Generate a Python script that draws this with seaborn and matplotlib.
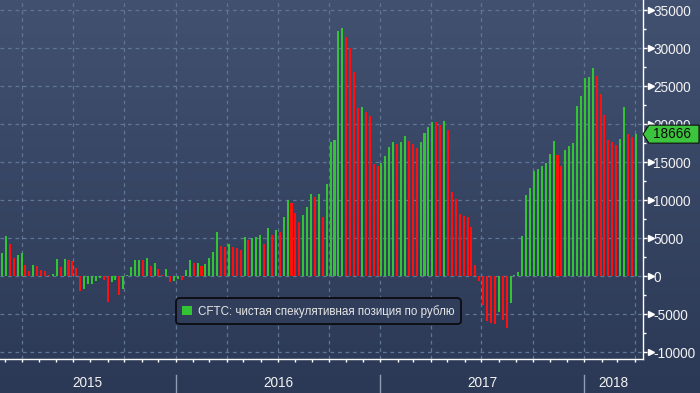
import numpy as np
import pandas as pd
import matplotlib
matplotlib.use("Agg")
import matplotlib.pyplot as plt
import matplotlib.dates as mdates
import matplotlib.ticker as mticker
from matplotlib.patches import Patch, Polygon
from matplotlib.lines import Line2D
import seaborn as sns

# ---------------- data ----------------
start_date = "2015-02-24"          # first weekly CFTC report shown
net_position = [
    3000, 5300, 4200, 2400, 2800, 3000, 1450, 650, 1450, 1300,
    850, 650, 100, 250, 2250, 1150, 2250, 2100, 2000, 1050,
    -2000, -1700, -1100, -1000, -650, -250, -500, -3400, -800, -500,
    -2500, -1700, 100, 1200, 2050, 2150, 2100, 2350, 1300, 1700,
    900, 100, 900, -800, -650, -400, -500, 800, 2100, 1650,
    1750, 1300, 1600, 2400, 3150, 5800, 3950, 3800, 4200, 3850,
    3750, 3400, 5100, 4800, 4950, 5100, 5400, 4200, 6300, 5400,
    6050, 5800, 7750, 10000, 9600, 8300, 7100, 8000, 9100, 10800,
    10400, 10800, 7700, 12100, 17600, 17900, 32200, 32600, 31400, 30000,
    26800, 22100, 22200, 21600, 21050, 14700, 14500, 14900, 15800, 17000,
    17600, 17400, 17600, 18400, 17800, 17400, 16800, 17600, 18800, 19600,
    20300, 20200, 19900, 20400, 19200, 11050, 10100, 8200, 7900, 7800,
    6450, 1450, -650, -3800, -5900, -6200, -6300, -4700, -5800, -6850,
    -3550, 150, 500, 5300, 10700, 11600, 13800, 14100, 14500, 14900,
    16050, 17800, 15900, 14500, 16600, 17100, 17500, 22400, 23700, 26050,
    26200, 27400, 26300, 23900, 21200, 17900, 17600, 17200, 18000, 22200,
    18700, 18300, 18666,
]
legend_label = "CFTC: чистая спекулятивная позиция по рублю"
last_label = "18666"
year_labels = ["2015", "2016", "2017", "2018"]
y_ticks = [-10000, -5000, 0, 5000, 10000, 15000, 20000, 25000, 30000, 35000]

# ---------------- style ----------------
GREEN = "#33c433"
RED = "#ff1010"
GRID = "#5e7594"
TXT = "#f2f2f2"
FONT = ["Liberation Sans", "DejaVu Sans"]
plt.rcParams["font.family"] = FONT

dates = pd.date_range(start_date, periods=len(net_position), freq="7D")
vals = np.array(net_position, dtype=float)
diff = np.diff(np.concatenate([[vals[0] - 1], vals]))
direction = np.where(diff >= 0, "up", "down")
df = pd.DataFrame({"x": mdates.date2num(dates), "y": vals, "dir": direction})

W, H = 700, 393
fig = plt.figure(figsize=(7, 3.93), dpi=100)

# background gradient
bg = fig.add_axes([0, 0, 1, 1], zorder=-10)
top = np.array(matplotlib.colors.to_rgb("#425170"))
bot = np.array(matplotlib.colors.to_rgb("#2b3956"))
t = np.linspace(0, 1, 256)[:, None, None]
grad = top * (1 - t) + bot * t
grad = np.repeat(grad, 2, axis=1)
bg.imshow(grad, aspect="auto", extent=[0, 1, 0, 1], origin="upper")
bg.set_axis_off()

ax_left, ax_right, ax_top, ax_bot = 0, 643, 0, 359
ax = fig.add_axes([ax_left / W, 1 - ax_bot / H, (ax_right - ax_left) / W, (ax_bot - ax_top) / H])
ax.set_facecolor("none")

sns.barplot(data=df, x="x", y="y", hue="dir", palette={"up": GREEN, "down": RED},
            native_scale=True, dodge=False, width=0.52, saturation=1,
            errorbar=None, legend=False, linewidth=0, ax=ax, zorder=3)
for p in ax.patches:
    p.set_antialiased(False)

xmin = mdates.date2num(pd.Timestamp("2015-02-20 10:00"))
xmax = mdates.date2num(pd.Timestamp("2018-04-16"))
ax.set_xlim(xmin, xmax)
ax.set_ylim(-10921, 36316)

# axes / ticks
for s in ["left", "top"]:
    ax.spines[s].set_visible(False)
for s in ["right", "bottom"]:
    ax.spines[s].set_color("white")
    ax.spines[s].set_linewidth(1.0)

ax.xaxis.set_major_locator(mdates.MonthLocator(bymonth=[1, 4, 7, 10]))
ax.xaxis.set_minor_locator(mdates.MonthLocator())
ax.xaxis.set_major_formatter(mticker.NullFormatter())
ax.tick_params(axis="x", which="both", direction="out", length=2.5, width=1, colors="white",
               labelbottom=False)
ax.set_xlabel("")
ax.set_ylabel("")

ax.yaxis.tick_right()
ax.yaxis.set_major_locator(mticker.FixedLocator(y_ticks))
ax.yaxis.set_minor_locator(mticker.MultipleLocator(2500))
ax.yaxis.set_major_formatter(mticker.FuncFormatter(lambda v, p: f"{int(v)}"))
ax.tick_params(axis="y", which="major", direction="out", length=3, width=1, colors="white",
               labelcolor=TXT, labelsize=9.8, pad=4.5)
ax.tick_params(axis="y", which="minor", direction="out", length=2.5, width=1, colors="white")
for lbl in ax.get_yticklabels():
    lbl.set_fontfamily(FONT)

# arrow heads on major y ticks
ax.plot([1 + 7.5 / 643] * len(y_ticks), y_ticks, transform=ax.get_yaxis_transform(),
        ls="none", marker=">", ms=4.5, mfc="white", mec="white", clip_on=False, zorder=5)

# grid
ax.grid(axis="y", which="major", color=GRID, ls=(0, (3, 3)), lw=0.9, zorder=0)
ax.grid(axis="x", which="major", color=GRID, ls=(0, (3, 3)), lw=0.9, zorder=0)
ax.set_axisbelow(True)

# legend
leg = ax.legend(handles=[Patch(facecolor=GREEN, edgecolor="none")], labels=[legend_label],
                loc="lower left", bbox_to_anchor=(176 / 643, (359 - 324) / 359),
                borderaxespad=0, fontsize=8.4, handlelength=0.8, handleheight=0.7,
                handletextpad=0.5, borderpad=0.55, fancybox=True, framealpha=1,
                facecolor="#303e5b", edgecolor="#0c0c10")
leg.get_frame().set_linewidth(1.3)
leg.get_frame().set_boxstyle("round,pad=0,rounding_size=0.3")
for tx in leg.get_texts():
    tx.set_color("#e6e6e6")

# year band below axis
inv = fig.transFigure.inverted()
def xfig(d):
    return inv.transform(ax.transData.transform((mdates.date2num(pd.Timestamp(d)), 0)))[0]

bounds = [xfig("2015-01-01"), xfig("2016-01-01"), xfig("2017-01-01"), xfig("2018-01-01"),
          xfig("2019-01-01")]
x_lo, x_hi = ax_left / W, ax_right / W
for i, yl in enumerate(year_labels):
    a = max(bounds[i], x_lo)
    b = min(bounds[i + 1], x_hi)
    fig.text((a + b) / 2, 1 - 383 / H, yl, ha="center", va="center", color=TXT,
             fontsize=9.8, family=FONT)
for bx in bounds[1:4]:
    fig.add_artist(Line2D([bx, bx], [0, 1 - 375 / H], color="#8d9bb3", lw=1,
                          transform=fig.transFigure))

# last value tag
yv = ax.transData.transform((xmin, vals[-1]))[1]
cy = inv.transform((0, yv))[1]
hh = 9 / H
tip = 643 / W
bx0 = 649 / W
bx1 = 699 / W
poly = Polygon([[tip, cy], [bx0, cy + hh], [bx1, cy + hh], [bx1, cy - hh], [bx0, cy - hh]],
               closed=True, transform=fig.transFigure, facecolor="#3cc43c",
               edgecolor="#101010", lw=0.8, zorder=4)
fig.add_artist(poly)
fig.text(672 / W, cy, last_label, ha="center", va="center", color="#0a0a0a",
         fontsize=9.8, family=FONT, zorder=5)

fig.savefig("out.png", dpi=100)
